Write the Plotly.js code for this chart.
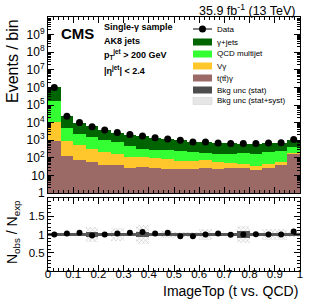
<!DOCTYPE html>
<html><head><meta charset="utf-8">
<script src="https://cdn.plot.ly/plotly-3.0.1.min.js"></script>
<style>html,body{margin:0;padding:0;background:#fff}#c{width:316px;height:303px}</style>
</head><body><div id="c"></div>
<script>
const bins = [0.025,0.075,0.125,0.175,0.225,0.275,0.325,0.375,0.425,0.475,0.525,0.575,0.625,0.675,0.725,0.775,0.825,0.875,0.925,0.975];
const dataVals = [1.0e6,23000,10000,5900,3800,2700,2100,1740,1400,1170,985,790,790,690,645,645,645,700,720,1080];
const ttg   = [870,122,72,58,41,41,26,30,28,24,24,24,26,24,27,25,19,28,40,160];
const vg    = [9800,780,440,270,175,130,86,82,74,58,42,42,46,34,23,22,14,19,18,20];
const qcd   = [159000,4000,1700,1170,765,620,360,220,190,186,168,148,124,100,124,141,141,167,176,230];
const gjets = [830000,17400,7300,4600,2800,1830,1530,1300,1070,840,800,610,594,510,476,457,466,486,486,590];
const ratio = [1.0,1.03,1.05,0.97,1.0,1.03,1.05,1.07,1.03,1.05,0.95,0.955,1.0,1.03,0.99,1.0,1.01,1.0,1.0,1.08];
const ratioErr = [0.01,0.01,0.01,0.015,0.015,0.02,0.02,0.02,0.025,0.025,0.03,0.03,0.03,0.035,0.035,0.035,0.035,0.035,0.035,0.03];
const statUnc = [0.03,0.03,0.03,0.08,0.03,0.03,0.03,0.07,0.03,0.03,0.03,0.03,0.04,0.03,0.03,0.1,0.03,0.05,0.04,0.04];
const totUnc  = [0.05,0.05,0.04,0.2,0.04,0.17,0.05,0.27,0.05,0.1,0.07,0.07,0.15,0.05,0.05,0.23,0.05,0.16,0.16,0.06];
const yTickVals = [1,10,100,1e3,1e4,1e5,1e6,1e7,1e8,1e9];
const yTickText = ['1','10','10<sup>2</sup>','10<sup>3</sup>','10<sup>4</sup>','10<sup>5</sup>','10<sup>6</sup>','10<sup>7</sup>','10<sup>8</sup>','10<sup>9</sup>'];
const xTickVals = [0,0.1,0.2,0.3,0.4,0.5,0.6,0.7,0.8,0.9,1];
const xTickText = ['0','0.1','0.2','0.3','0.4','0.5','0.6','0.7','0.8','0.9','1'];
const rTickVals = [0.5,1,1.5];
const rTickText = ['0.5','1','1.5'];

const cols = {gj:'#006400', qcd:'#33ff33', vg:'#ffc72c', ttg:'#9c6a66', stat:'#4d4d4d'};
const F = 'Liberation Sans, Arial, Helvetica, sans-serif';

function bar(y, c, name){return {type:'bar', x:bins, y:y, width:0.05, marker:{color:c, line:{width:0}}, name:name, xaxis:'x', yaxis:'y', showlegend:false};}
const traces = [
  bar(ttg, cols.ttg, 't(tt\u0304)γ'),
  bar(vg, cols.vg, 'Vγ'),
  bar(qcd, cols.qcd, 'QCD multijet'),
  bar(gjets, cols.gj, 'γ+jets'),
  {type:'scatter', mode:'markers', x:bins, y:dataVals, marker:{color:'#000', size:7}, xaxis:'x', yaxis:'y', showlegend:false},
  {type:'bar', x:bins, y:totUnc.map(v=>2*v), base:totUnc.map(v=>1-v), width:0.05, xaxis:'x2', yaxis:'y2', showlegend:false,
   marker:{color:'rgba(255,255,255,0)', line:{width:0}, pattern:{shape:'x', fgcolor:'#bbbbbb', bgcolor:'rgba(255,255,255,0)', size:3, solidity:0.3}}},
  {type:'bar', x:bins, y:statUnc.map(v=>2*v), base:statUnc.map(v=>1-v), width:0.05, xaxis:'x2', yaxis:'y2', showlegend:false,
   marker:{color:'rgba(60,60,60,0.85)', line:{width:0}}},
  {type:'scatter', mode:'markers', x:bins, y:ratio, error_y:{type:'data', array:ratioErr, color:'#000', thickness:1, width:0},
   marker:{color:'#000', size:6}, xaxis:'x2', yaxis:'y2', showlegend:false}
];

const W=316, H=303, L=48, R=16, T=17, B=32;
const pw = W-L-R, ph = H-T-B;
const px = v => (v-L)/pw;
const py = v => (H-B-v)/ph;

const ann = [];
function A(text, x, y, o){ann.push(Object.assign({text:text, x:px(x), y:py(y), xref:'paper', yref:'paper', showarrow:false, xanchor:'left', yanchor:'middle', font:{family:F, size:9, color:'#000'}}, o||{}));}
A('35.9 fb<sup>-1</sup> (13 TeV)', 298, 10, {xanchor:'right', font:{family:F, size:12.5, color:'#000'}});
A('<b>CMS</b>', 59, 33, {font:{family:F, size:15, color:'#000'}});
A('<b>Single-γ sample</b>', 102, 27);
A('<b>AK8 jets</b>', 102, 41);
A('<b>p<sub>T</sub><sup>jet</sup> > 200 GeV</b>', 102, 55);
A('<b>|η<sup>jet</sup>| < 2.4</b>', 102, 70);
A('Events / bin', 12, 17, {textangle:-90, xanchor:'center', yanchor:'top', font:{family:F, size:16, color:'#000'}});
A('N<sub>obs</sub> / N<sub>exp</sub>', 13, 198, {textangle:-90, xanchor:'center', yanchor:'top', font:{family:F, size:14, color:'#000'}});
A('ImageTop (t vs. QCD)', 300, 291, {xanchor:'right', font:{family:F, size:14, color:'#000'}});

const legRows = [29,42,54,66,78,90,101];
const legText = ['Data','γ+jets','QCD multijet','Vγ','t(tt\u0304)γ','Bkg unc (stat)','Bkg unc (stat+syst)'];
const legCol = [null, cols.gj, cols.qcd, cols.vg, cols.ttg, cols.stat, '#e6e6e6'];
const shapes = [];
legRows.forEach((r,i)=>{
  A(legText[i], 215, r, {font:{family:F, size:8, color:'#000'}});
  if(i===0){
    shapes.push({type:'line', xref:'paper', yref:'paper', x0:px(193), x1:px(212), y0:py(r), y1:py(r), line:{color:'#000', width:1}});
    shapes.push({type:'circle', xref:'paper', yref:'paper', xsizemode:'pixel', ysizemode:'pixel', xanchor:px(202.5), yanchor:py(r), x0:-3.5, x1:3.5, y0:-3.5, y1:3.5, fillcolor:'#000', line:{width:0}});
  } else {
    shapes.push({type:'rect', xref:'paper', yref:'paper', x0:px(193), x1:px(212), y0:py(r+3.5), y1:py(r-3.5), fillcolor:legCol[i], line:{width: i===6?0.5:0, color:'#cccccc'}});
  }
});

const axBase = {showline:true, linecolor:'#000', linewidth:1, mirror:'allticks', ticks:'inside', ticklen:6, tickcolor:'#000', showgrid:false, zeroline:false, tickfont:{family:F, size:12, color:'#000'}};
const layout = {
  width:W, height:H, margin:{l:L, r:R, t:T, b:B}, paper_bgcolor:'#fff', plot_bgcolor:'#fff',
  barmode:'stack', bargap:0, showlegend:false,
  xaxis: Object.assign({}, axBase, {domain:[0,1], range:[0,1], anchor:'y', showticklabels:false, tickvals:xTickVals, minor:{dtick:0.02, ticks:'inside', ticklen:3, tickcolor:'#000'}}),
  yaxis: Object.assign({}, axBase, {domain:[(H-B-193)/ph, 1], type:'log', range:[0,10], anchor:'x', tickvals:yTickVals, ticktext:yTickText, minor:{dtick:'D1', ticks:'inside', ticklen:3, tickcolor:'#000'}}),
  xaxis2: Object.assign({}, axBase, {domain:[0,1], range:[0,1], anchor:'y2', matches:'x', tickvals:xTickVals, ticktext:xTickText, ticklabelstandoff:-8, tickfont:{family:F, size:11.5, color:'#000'}, minor:{dtick:0.02, ticks:'inside', ticklen:3, tickcolor:'#000'}}),
  yaxis2: Object.assign({}, axBase, {domain:[0,(H-B-198)/ph], range:[0,2], anchor:'x2', tickvals:rTickVals, ticktext:rTickText, tickfont:{family:F, size:11.5, color:'#000'}, minor:{dtick:0.1, ticks:'inside', ticklen:3, tickcolor:'#000'}}),
  annotations: ann, shapes: shapes
};
Plotly.newPlot('c', traces, layout, {staticPlot:true, displayModeBar:false});
</script></body></html>
